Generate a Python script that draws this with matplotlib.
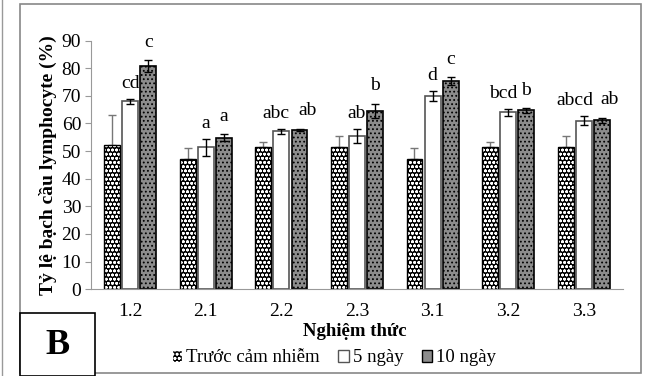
import numpy as np
import matplotlib
matplotlib.use('Agg')
import matplotlib.pyplot as plt
from matplotlib.patches import Rectangle
from matplotlib.lines import Line2D

plt.rcParams['font.family'] = ['Liberation Serif', 'DejaVu Serif']
plt.rcParams['hatch.linewidth'] = 0.8

nghiemThuc = ['1.2', '2.1', '2.2', '2.3', '3.1', '3.2', '3.3']
nhomTen = ['Trước cảm nhiễm', '5 ngày', '10 ngày']

truoc = [52.3, 47.3, 51.5, 51.5, 47.2, 51.5, 51.5]
truocLoi = [10.6, 3.9, 1.9, 3.8, 4.0, 1.8, 3.8]
ngay5 = [68.0, 51.3, 57.2, 55.5, 70.0, 64.0, 61.0]
ngay5Loi = [1.0, 3.1, 0.9, 2.6, 1.8, 1.3, 1.6]
ngay10 = [80.8, 54.9, 57.6, 64.5, 75.3, 64.7, 61.1]
ngay10Loi = [2.2, 1.3, 0.5, 2.7, 1.5, 0.9, 1.0]

chu5 = ['cd', 'a', 'abc', 'ab', 'd', 'bcd', 'abcd']
chu10 = ['c', 'a', 'ab', 'b', 'c', 'b', 'ab']

fig = plt.figure(figsize=(6.45, 3.76), dpi=100)
ax = fig.add_axes([0.141, 0.231, 0.825, 0.661])

x = np.arange(len(nghiemThuc))
w = 0.21
d = 0.24

# cot truoc cam nhiem: nen den, cham trang
ax.bar(x - d, truoc, w, color='black', edgecolor='white', hatch='oooo', linewidth=0, zorder=2)
ax.bar(x - d, truoc, w, fill=False, edgecolor='black', linewidth=1.0, zorder=3)
ax.errorbar(x - d, truoc, yerr=[np.zeros(len(truoc)), truocLoi], fmt='none',
            ecolor='#777777', elinewidth=1, capsize=3, zorder=1)

ax.bar(x, ngay5, w, color='white', edgecolor='#555555', linewidth=1.2, zorder=2)
ax.errorbar(x, ngay5, yerr=ngay5Loi, fmt='none', ecolor='black', elinewidth=1, capsize=3, zorder=4)

ax.bar(x + d, ngay10, w, color='#8c8c8c', edgecolor='black', linewidth=1.2, hatch='....', zorder=2)
ax.errorbar(x + d, ngay10, yerr=ngay10Loi, fmt='none', ecolor='black', elinewidth=1, capsize=3, zorder=4)

for i in range(len(nghiemThuc)):
    lech5 = {4: -0.12, 3: -0.07}.get(len(chu5[i]), 0)
    lech10 = 0.1 if len(chu5[i]) >= 3 and len(chu10[i]) == 2 else 0.0
    ax.text(x[i] + lech5, ngay5[i] + ngay5Loi[i] + 4.0, chu5[i], ha='center', va='baseline', fontsize=14)
    ax.text(x[i] + d + lech10, ngay10[i] + ngay10Loi[i] + 4.8, chu10[i], ha='center', va='baseline', fontsize=14)

ax.set_ylim(0, 90)
ax.set_xlim(-0.52, 6.52)
ax.set_yticks(range(0, 91, 10))
ax.set_xticks(x)
ax.set_xticklabels(nghiemThuc)
ax.tick_params(axis='y', labelsize=14, length=4, color='#999999', pad=3)
ax.tick_params(axis='x', labelsize=14, length=0, pad=10)
for s in ['top', 'right']:
    ax.spines[s].set_visible(False)
ax.spines['left'].set_color('#999999')
ax.spines['bottom'].set_color('#999999')

ax.set_ylabel('Tỷ lệ bạch cầu lymphocyte (%)', fontsize=14, fontweight='bold', labelpad=3)
fig.text(355 / 645, 1 - 331 / 376, 'Nghiệm thức', ha='center', va='center', fontsize=13.5, fontweight='bold')

handles = [Rectangle((0, 0), 1, 1, facecolor='black', edgecolor='white', hatch='oooo'),
           Rectangle((0, 0), 1, 1, facecolor='white', edgecolor='#555555'),
           Rectangle((0, 0), 1, 1, facecolor='#8c8c8c', edgecolor='black')]
fig.legend(handles, nhomTen, loc='center', bbox_to_anchor=(334 / 645, 1 - 358 / 376), ncol=3,
           frameon=False, fontsize=13.5, handlelength=0.55, handleheight=0.55, handletextpad=0.2,
           columnspacing=1.0, borderpad=0)

# khung ngoai
fig.patches.append(Rectangle((20 / 645, 3 / 376), 621 / 645, 369 / 376, transform=fig.transFigure,
                             fill=False, edgecolor='#888888', linewidth=1.2))
fig.lines.append(Line2D([2 / 645, 2 / 645], [0, 1], transform=fig.transFigure, color='#999999', linewidth=1))
# o chu B
fig.patches.append(Rectangle((20 / 645, 0), 75 / 645, 63 / 376, transform=fig.transFigure,
                             facecolor='white', edgecolor='black', linewidth=1.2))
fig.text(57 / 645, 1 - 345 / 376, 'B', ha='center', va='center', fontsize=26, fontweight='bold')

fig.savefig('out.png', dpi=100)
